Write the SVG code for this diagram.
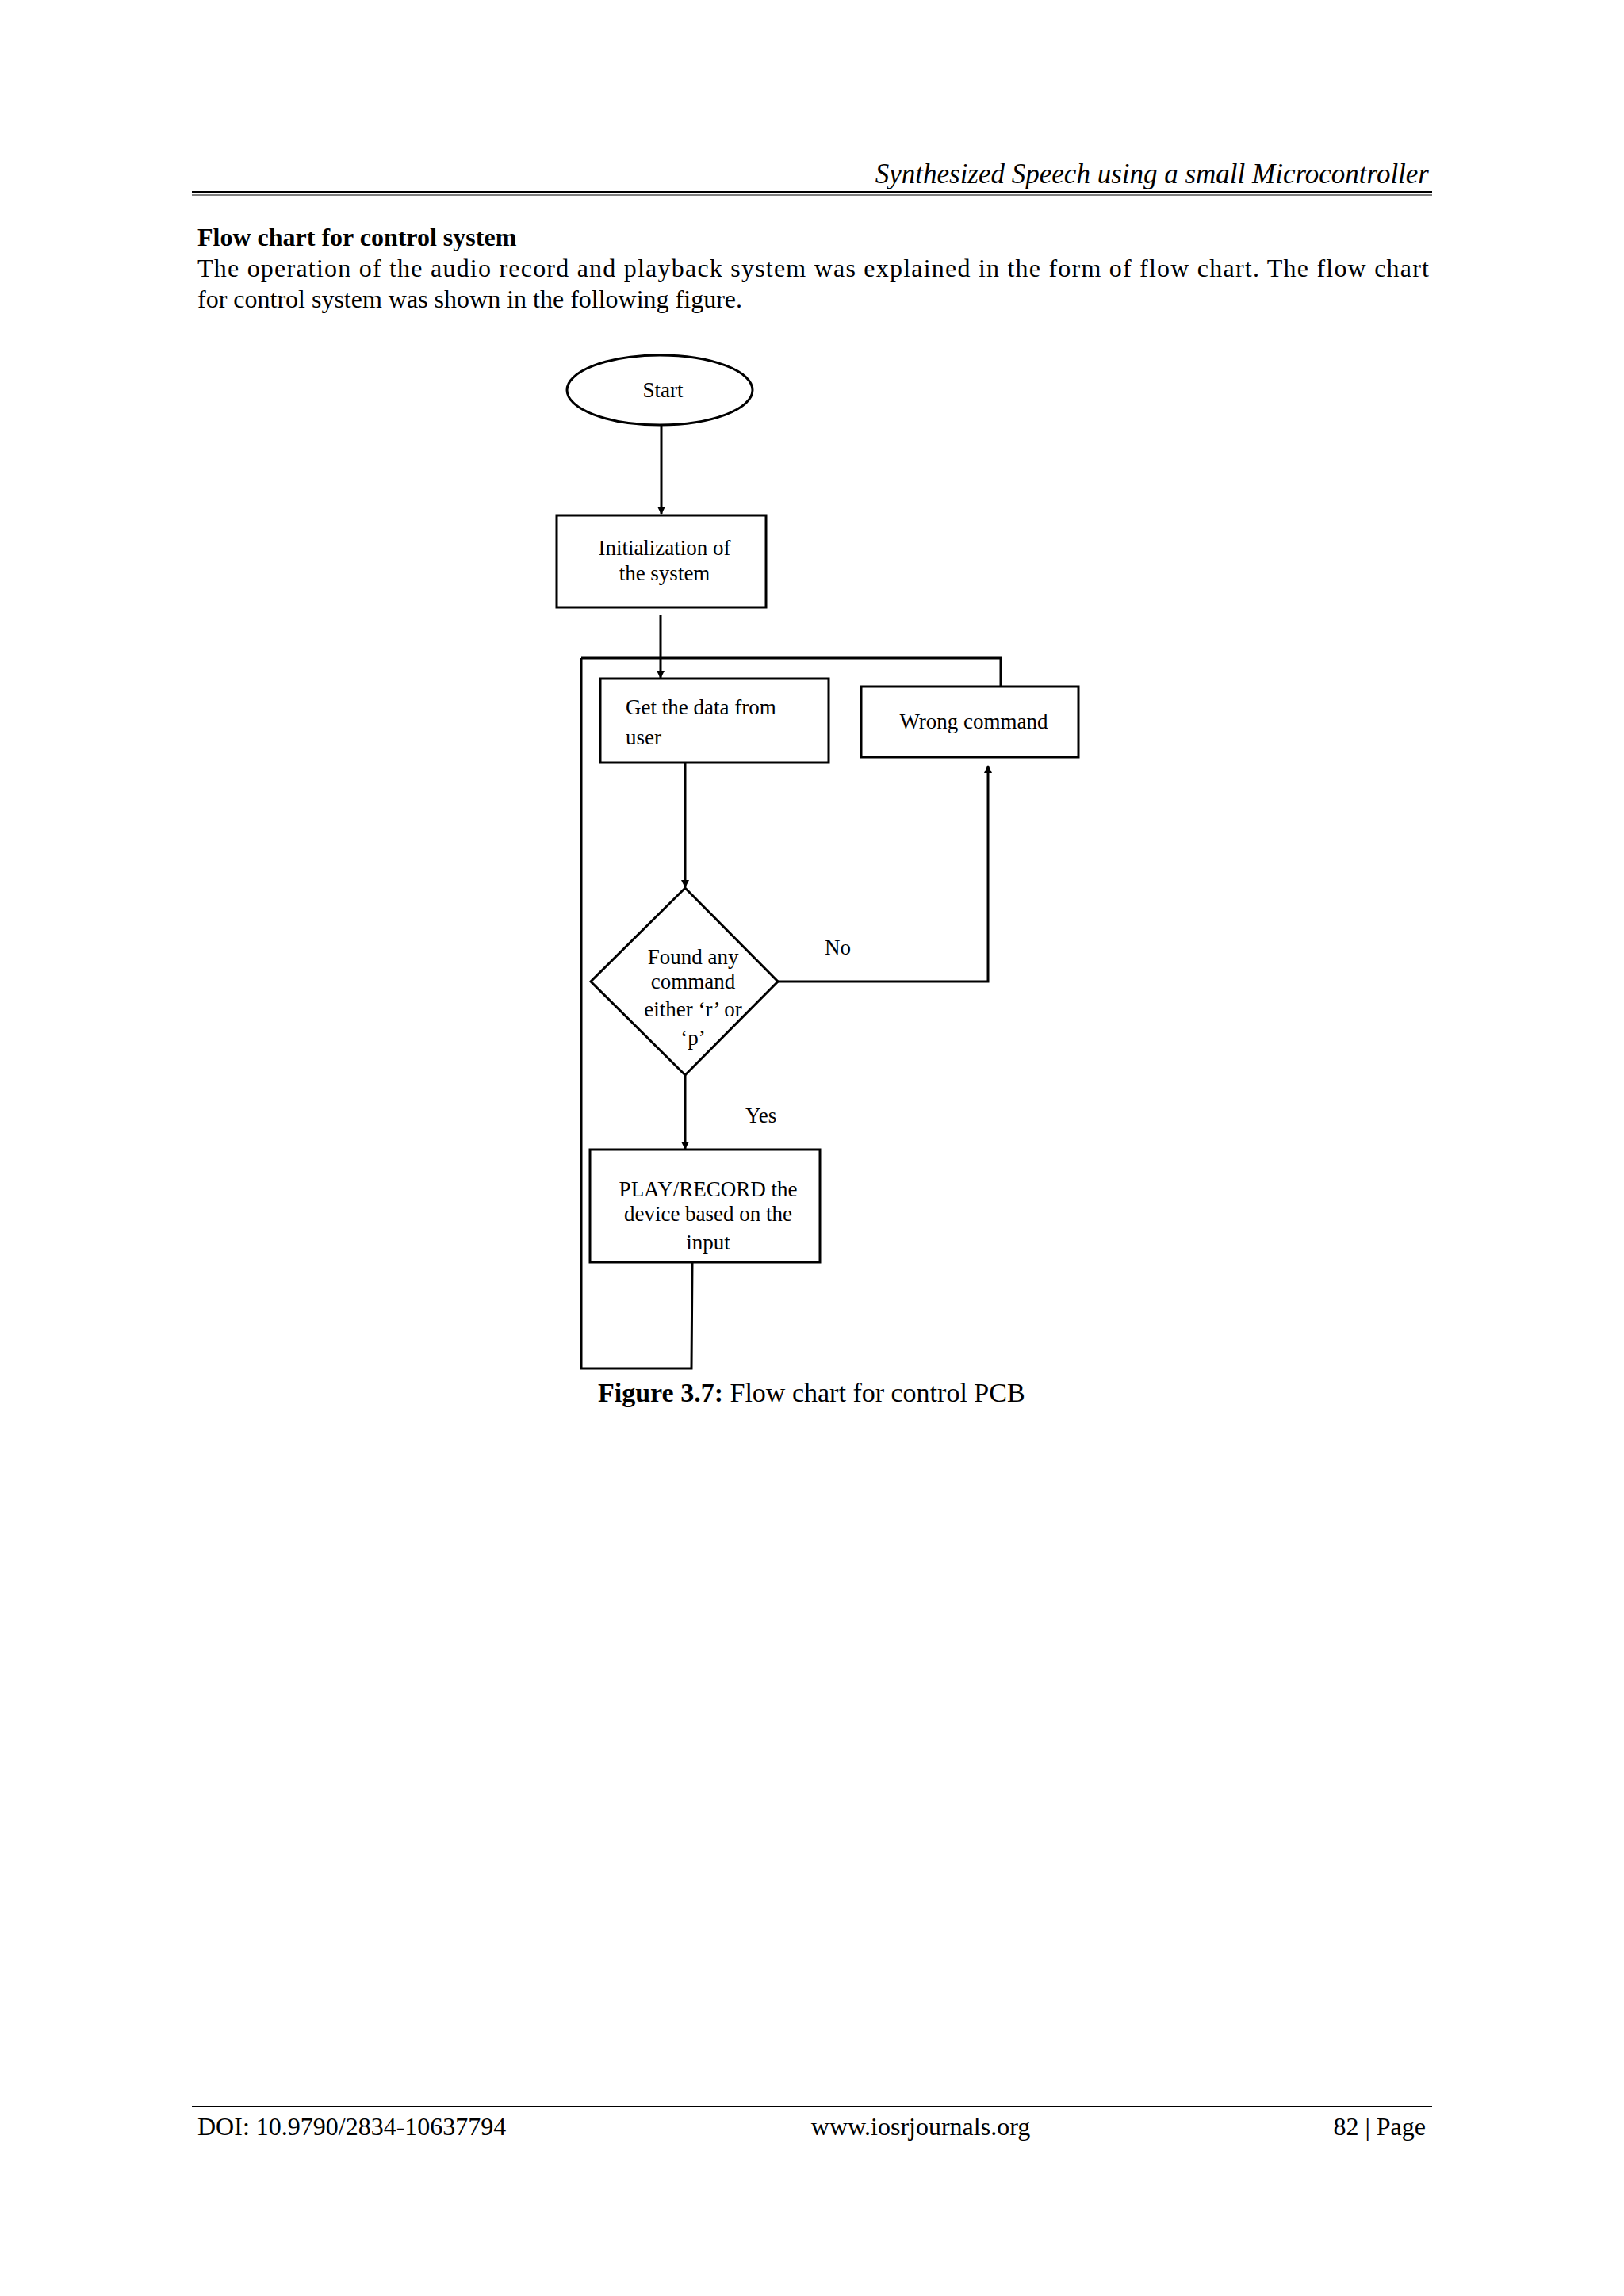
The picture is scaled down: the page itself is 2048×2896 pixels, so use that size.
<svg xmlns="http://www.w3.org/2000/svg" width="2048" height="2896" viewBox="0 0 2048 2896">
<defs>
<marker id="ah" markerWidth="10" markerHeight="10" refX="9" refY="5" orient="auto" markerUnits="userSpaceOnUse"><path d="M0,0 L10,5 L0,10 z" fill="#000"/></marker>
</defs>
<style>
.pg{font-family:"Liberation Serif",serif;fill:#000}
.nd{font-family:"Liberation Serif",serif;font-size:27px;fill:#000}
.sh{fill:#fff;stroke:#000;stroke-width:3}
.ln{fill:none;stroke:#000;stroke-width:3}
</style>
<rect width="2048" height="2896" fill="#fff"/>
<text class="pg" x="1802" y="231" font-size="35" font-style="italic" text-anchor="end">Synthesized Speech using a small Microcontroller</text>
<line x1="242" y1="242" x2="1806" y2="242" stroke="#000" stroke-width="2"/>
<line x1="242" y1="246" x2="1806" y2="246" stroke="#000" stroke-width="1"/>
<text class="pg" x="249" y="310" font-size="32" font-weight="bold">Flow chart for control system</text>
<text class="pg" x="249" y="349" font-size="32" textLength="1553" lengthAdjust="spacing">The operation of the audio record and playback system was explained in the form of flow chart. The flow chart</text>
<text class="pg" x="249" y="388" font-size="32">for control system was shown in the following figure.</text>

<g id="connectors">
<line class="ln" x1="834" y1="536" x2="834" y2="648" marker-end="url(#ah)"/>
<line class="ln" x1="833" y1="776" x2="833" y2="855" marker-end="url(#ah)"/>
<polyline class="ln" points="1262,866 1262,830 733,830"/>
<line class="ln" x1="864" y1="962" x2="864" y2="1119" marker-end="url(#ah)"/>
<polyline class="ln" points="981,1238 1246,1238 1246,966" marker-end="url(#ah)"/>
<line class="ln" x1="864" y1="1356" x2="864" y2="1449" marker-end="url(#ah)"/>
<polyline class="ln" points="873,1592 872,1726 733,1726 733,830"/>
<text class="nd" x="1040" y="1204">No</text>
<text class="nd" x="940" y="1416">Yes</text>
</g>

<g id="start">
<ellipse class="sh" cx="832" cy="492" rx="117" ry="44" stroke-width="2"/>
<text class="nd" x="836" y="501" text-anchor="middle">Start</text>
</g>
<g id="init">
<rect class="sh" x="702" y="650" width="264" height="116"/>
<text class="nd" x="838" y="700" text-anchor="middle">Initialization of</text>
<text class="nd" x="838" y="732" text-anchor="middle">the system</text>
</g>
<g id="getdata">
<rect class="sh" x="757" y="856" width="288" height="106"/>
<text class="nd" x="789" y="901">Get the data from</text>
<text class="nd" x="789" y="939">user</text>
</g>
<g id="wrong">
<rect class="sh" x="1086" y="866" width="274" height="89"/>
<text class="nd" x="1228" y="919" text-anchor="middle">Wrong command</text>
</g>
<g id="decision">
<polygon class="sh" points="864,1120 981,1238 864,1356 745,1238" stroke-width="2"/>
<text class="nd" x="874" y="1216" text-anchor="middle">Found any</text>
<text class="nd" x="874" y="1247" text-anchor="middle">command</text>
<text class="nd" x="874" y="1282" text-anchor="middle">either ‘r’ or</text>
<text class="nd" x="874" y="1318" text-anchor="middle">‘p’</text>
</g>
<g id="play">
<rect class="sh" x="744" y="1450" width="290" height="142"/>
<text class="nd" x="893" y="1509" text-anchor="middle">PLAY/RECORD the</text>
<text class="nd" x="893" y="1540" text-anchor="middle">device based on the</text>
<text class="nd" x="893" y="1576" text-anchor="middle">input</text>
</g>

<text class="pg" x="754" y="1768" font-size="34"><tspan font-weight="bold">Figure 3.7:</tspan> Flow chart for control PCB</text>

<line x1="242" y1="2657" x2="1806" y2="2657" stroke="#000" stroke-width="2"/>
<text class="pg" x="249" y="2693" font-size="32">DOI: 10.9790/2834-10637794</text>
<text class="pg" x="1161" y="2693" font-size="32" text-anchor="middle">www.iosrjournals.org</text>
<text class="pg" x="1798" y="2693" font-size="32" text-anchor="end">82 | Page</text>
</svg>
